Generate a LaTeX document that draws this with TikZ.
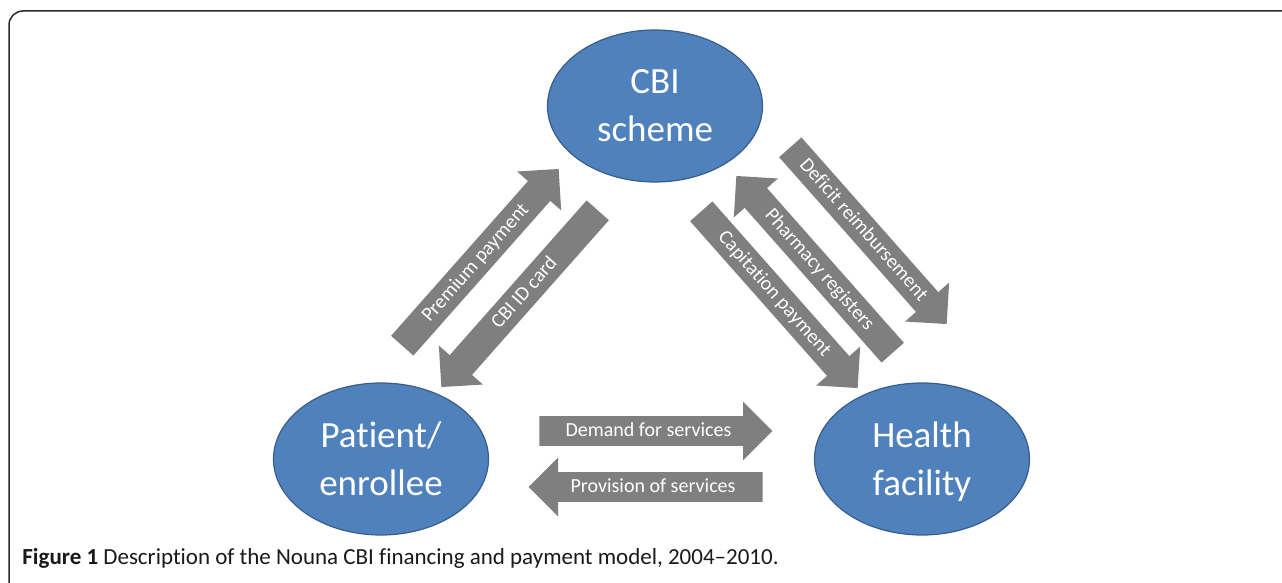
\documentclass[tikz,border=0pt]{standalone}
\usepackage{fontspec}
\setmainfont{Carlito}[Ligatures={NoCommon}]
\usetikzlibrary{shapes.arrows,shapes.geometric}
\definecolor{nodeblue}{HTML}{4F81BD}
\definecolor{nodeedge}{HTML}{385D8A}
\definecolor{arrowgray}{HTML}{7F7F7F}
\definecolor{framegray}{HTML}{2B2B2B}
\begin{document}
\begin{tikzpicture}[x=0.5pt,y=-0.5pt,
  entity/.style={ellipse, fill=nodeblue, draw=nodeedge, line width=0.6pt,
    minimum width=107.5pt, minimum height=76pt, inner sep=0pt, text=white,
    font=\fontsize{18.5}{24}\selectfont, align=center},
  flow/.style={single arrow, fill=arrowgray, draw=none, text=white,
    font=\fontsize{10}{11}\selectfont, single arrow head extend=7.25pt,
    inner ysep=0pt, inner xsep=2pt, text height=10pt, text depth=4.5pt,
    minimum width=1pt, minimum height=118pt, anchor=tail},
  back/.style={shape border rotate=180}]
\useasboundingbox (0,0) rectangle (1282,583);
\clip (0,0) rectangle (1282,583);
\draw[line width=0.75pt, draw=framegray, rounded corners=7pt] (1300,11) -- (9,11) -- (9,600);

\node[entity] (cbi) at (655,106) {CBI\\scheme};
\node[entity] (pat) at (381,459) {Patient/\\enrollee};
\node[entity] (hf) at (922,459) {Health\\\raisebox{0pt}[\height][0pt]{facility}};

\node[flow, rotate=48.5] (prem) at (402,346) {Premium payment};
\node[flow, back, rotate=48.5] (card) at (598,210) {CBI ID card};
\node[flow, rotate=-48.5] (def) at (790,147) {Deficit reimbursement};
\node[flow, back, rotate=-48.5] (pha) at (893,353) {Pharmacy registers};
\node[flow, rotate=-48.5] (capi) at (701,211) {Capitation payment};
\node[flow, minimum height=116.5pt] (dem) at (539,431) {Demand for services};
\node[flow, back, minimum height=117pt] (pro) at (763,487) {Provision of services};

\node[anchor=base west, inner sep=0pt, text=black!90, font=\fontsize{11.5}{13}\selectfont] (caption) at (22,564)
  {\textbf{Figure 1} Description of the Nouna CBI financing and payment model, 2004–2010.};
\end{tikzpicture}
\end{document}
